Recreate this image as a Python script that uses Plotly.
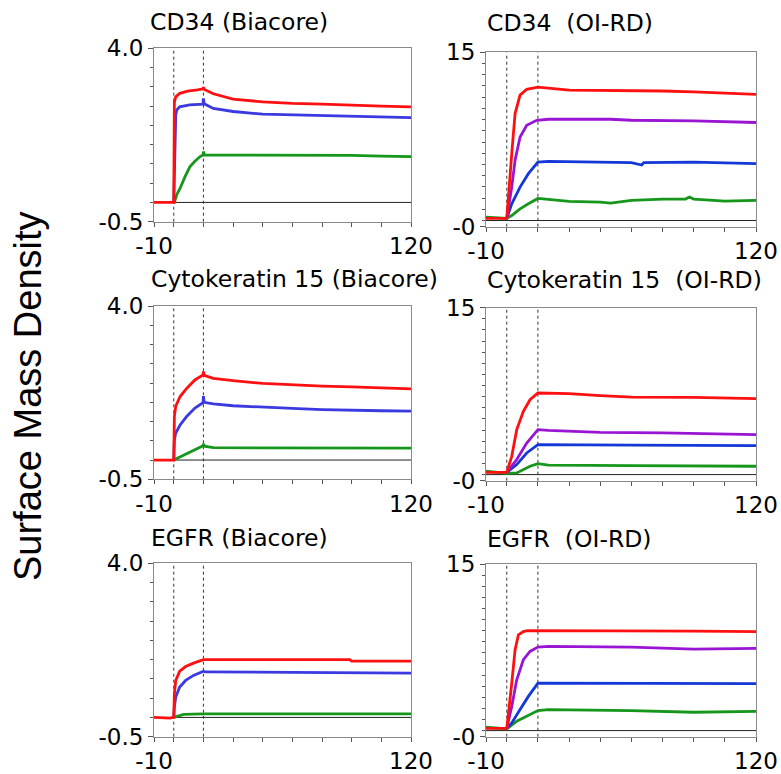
import plotly.graph_objects as go

# ---------------- data ----------------
panel_titles = ["CD34 (Biacore)", "CD34  (OI-RD)",
                "Cytokeratin 15 (Biacore)", "Cytokeratin 15  (OI-RD)",
                "EGFR (Biacore)", "EGFR  (OI-RD)"]
y_axis_title = "Surface Mass Density"
event_times = [0, 15]
x_range = [-10, 120]
x_tick_labels = ["-10", "120"]
biacore_range = [-0.5, 4.0]
biacore_tick_labels = ["-0.5", "4.0"]
oird_range = [-0.55, 15]
oird_tick_labels = ["-0", "15"]

# CD34 Biacore
cd34_b_red_t = [-10, -5, 0, 0.3, 1, 3, 7, 12, 14.8, 15, 15.5, 20, 25, 30, 45, 60, 75, 90, 105, 120]
cd34_b_red_v = [0, 0, 0, 2.60, 2.74, 2.83, 2.89, 2.92, 2.95, 2.99, 2.93, 2.82, 2.74, 2.68, 2.61, 2.57, 2.55, 2.52, 2.50, 2.48]
cd34_b_blue_t = [0, 0.5, 1, 1.5, 3, 8, 14.8, 15, 15.4, 20, 30, 45, 60, 75, 90, 105, 120]
cd34_b_blue_v = [0, 1.60, 2.27, 2.40, 2.48, 2.53, 2.55, 2.70, 2.56, 2.44, 2.36, 2.29, 2.27, 2.25, 2.23, 2.21, 2.20]
cd34_b_green_t = [0, 0.3, 1.5, 3.2, 5.7, 8.2, 10.7, 13.3, 14.8, 15.1, 15.5, 30, 60, 90, 105, 120]
cd34_b_green_v = [0, 0, 0.20, 0.37, 0.67, 0.93, 1.07, 1.19, 1.23, 1.32, 1.23, 1.23, 1.23, 1.22, 1.20, 1.19]

# Cytokeratin 15 Biacore
ck15_b_red_t = [-10, 0, 0.3, 1, 3.2, 6.5, 10.7, 14.8, 15, 15.4, 20, 30, 45, 60, 75, 90, 105, 120]
ck15_b_red_v = [0, 0, 1.13, 1.40, 1.65, 1.86, 2.08, 2.21, 2.30, 2.20, 2.12, 2.06, 1.99, 1.95, 1.92, 1.90, 1.88, 1.85]
ck15_b_blue_t = [0, 0.3, 1, 3.2, 6.5, 10.7, 14.8, 15, 15.4, 20, 30, 45, 60, 75, 90, 105, 120]
ck15_b_blue_v = [0, 0.52, 0.70, 0.91, 1.13, 1.35, 1.49, 1.66, 1.50, 1.46, 1.41, 1.37, 1.34, 1.31, 1.29, 1.28, 1.27]
ck15_b_green_t = [0, 5, 10, 14.8, 15, 15.5, 20, 60, 120]
ck15_b_green_v = [0, 0.13, 0.26, 0.37, 0.42, 0.36, 0.32, 0.32, 0.31]

# EGFR Biacore
egfr_b_red_t = [-10, -2, 0, 0.3, 1, 3, 6, 10, 15, 20, 60, 89, 90, 120]
egfr_b_red_v = [0, -0.02, 0, 0.62, 0.96, 1.20, 1.32, 1.41, 1.50, 1.50, 1.50, 1.50, 1.46, 1.46]
egfr_b_blue_t = [0, 0.3, 1, 3, 6, 10, 15, 16, 60, 120]
egfr_b_blue_v = [0, 0.27, 0.53, 0.79, 0.96, 1.09, 1.20, 1.18, 1.17, 1.15]
egfr_b_green_t = [0, 3, 5, 15, 120]
egfr_b_green_v = [0, 0.05, 0.08, 0.09, 0.09]

# CD34 OI-RD
cd34_o_red_t = [-10, 0, 2.4, 4.0, 6.4, 9.6, 14.4, 15, 30, 45, 60, 75, 90, 105, 120]
cd34_o_red_v = [0.2, 0.2, 5.96, 9.54, 11.18, 11.70, 11.87, 11.90, 11.63, 11.62, 11.57, 11.55, 11.48, 11.39, 11.24]
cd34_o_purple_t = [0, 2.4, 4.0, 6.4, 9.6, 14.4, 20, 50, 60, 90, 120]
cd34_o_purple_v = [0.2, 2.98, 5.37, 7.45, 8.50, 8.94, 9.03, 9.03, 8.94, 8.88, 8.74]
cd34_o_blue_t = [0, 2.4, 6.4, 10.4, 15, 20, 60, 65, 66, 90, 120]
cd34_o_blue_v = [0.2, 1.49, 2.98, 4.18, 5.22, 5.28, 5.16, 4.95, 5.16, 5.20, 5.07]
cd34_o_green_t = [-10, 0, 2.4, 6.4, 10.4, 15, 20, 30, 45, 50, 60, 75, 86, 88, 90, 105, 120]
cd34_o_green_v = [0.3, 0.2, 0.45, 1.04, 1.49, 1.97, 1.88, 1.70, 1.64, 1.55, 1.79, 1.91, 1.91, 2.09, 1.91, 1.73, 1.79]

# Cytokeratin 15 OI-RD
ck15_o_red_t = [-10, 0, 2.4, 4.8, 8, 11.2, 15, 20, 30, 45, 60, 90, 120]
ck15_o_red_v = [0.2, 0.2, 1.64, 4.04, 5.68, 6.73, 7.33, 7.33, 7.27, 7.09, 6.97, 6.94, 6.82]
ck15_o_purple_t = [0, 4.8, 9.6, 15, 20, 45, 75, 120]
ck15_o_purple_v = [0.2, 1.35, 2.84, 4.04, 3.98, 3.79, 3.74, 3.59]
ck15_o_blue_t = [0, 4.8, 9.6, 13.9, 15, 60, 120]
ck15_o_blue_v = [0.2, 0.90, 1.94, 2.60, 2.69, 2.65, 2.60]
ck15_o_green_t = [-10, 0, 4.8, 8, 11.2, 15, 20, 60, 120]
ck15_o_green_v = [0.3, 0.1, 0.15, 0.45, 0.75, 0.99, 0.85, 0.81, 0.75]

# EGFR OI-RD
egfr_o_red_t = [-10, 0, 2.4, 4.0, 5.6, 8, 10, 60, 90, 120]
egfr_o_red_v = [0.2, 0.2, 4.28, 7.28, 8.62, 8.92, 9.01, 9.00, 8.95, 8.92]
egfr_o_purple_t = [0, 2.4, 4.8, 8, 11.2, 15, 20, 60, 90, 120]
egfr_o_purple_v = [0.2, 2.18, 4.58, 6.38, 7.13, 7.52, 7.58, 7.52, 7.34, 7.40]
egfr_o_blue_t = [0, 2.4, 6.4, 10.4, 15, 60, 120]
egfr_o_blue_v = [0.2, 0.69, 1.89, 3.08, 4.28, 4.28, 4.22]
egfr_o_green_t = [-10, 0, 4.8, 9.6, 15, 20, 60, 90, 120]
egfr_o_green_v = [0.3, 0.15, 0.84, 1.29, 1.80, 1.89, 1.80, 1.65, 1.73]

# ---------------- style ----------------
RED = "#ff1010"
BLUE_B = "#3a3ae0"
BLUE_O = "#1438d8"
PURPLE = "#9a14d4"
GREEN = "#16961a"
W, H = 781, 774

panels = [
    ([(cd34_b_green_t, cd34_b_green_v, GREEN), (cd34_b_blue_t, cd34_b_blue_v, BLUE_B), (cd34_b_red_t, cd34_b_red_v, RED)], True, (154, 411), (48.3, 221.7)),
    ([(cd34_o_green_t, cd34_o_green_v, GREEN), (cd34_o_blue_t, cd34_o_blue_v, BLUE_O), (cd34_o_purple_t, cd34_o_purple_v, PURPLE), (cd34_o_red_t, cd34_o_red_v, RED)], False, (486, 756), (52.3, 226.7)),
    ([(ck15_b_green_t, ck15_b_green_v, GREEN), (ck15_b_blue_t, ck15_b_blue_v, BLUE_B), (ck15_b_red_t, ck15_b_red_v, RED)], True, (154, 411), (306, 479.3)),
    ([(ck15_o_green_t, ck15_o_green_v, GREEN), (ck15_o_blue_t, ck15_o_blue_v, BLUE_O), (ck15_o_purple_t, ck15_o_purple_v, PURPLE), (ck15_o_red_t, ck15_o_red_v, RED)], False, (486, 756), (307.7, 480.7)),
    ([(egfr_b_green_t, egfr_b_green_v, GREEN), (egfr_b_blue_t, egfr_b_blue_v, BLUE_B), (egfr_b_red_t, egfr_b_red_v, RED)], True, (154, 411), (563.3, 736.7)),
    ([(egfr_o_green_t, egfr_o_green_v, GREEN), (egfr_o_blue_t, egfr_o_blue_v, BLUE_O), (egfr_o_purple_t, egfr_o_purple_v, PURPLE), (egfr_o_red_t, egfr_o_red_v, RED)], False, (486, 756), (564, 736.7)),
]
title_pos = [(148, 32), (485, 33), (149, 288.5), (485, 290), (149, 548), (485, 549)]

fig = go.Figure()
layout = dict(width=W, height=H, margin=dict(l=0, r=0, t=0, b=0, autoexpand=False),
              paper_bgcolor="white", plot_bgcolor="white", showlegend=False, template="none")
shapes = []
annotations = []
TICKFONT = dict(family="DejaVu Sans", size=23, color="black")

for i, (series, is_b, xp, yp) in enumerate(panels):
    n = i + 1
    xa = "x" if n == 1 else f"x{n}"
    ya = "y" if n == 1 else f"y{n}"
    for t, v, c in series:
        fig.add_trace(go.Scatter(x=t, y=v, mode="lines", xaxis=xa, yaxis=ya,
                                 line=dict(color=c, width=2.8), hoverinfo="skip"))
    xd = [xp[0] / W, xp[1] / W]
    yd = [1 - yp[1] / H, 1 - yp[0] / H]
    yr = biacore_range if is_b else oird_range
    ylab = biacore_tick_labels if is_b else oird_tick_labels
    key_x = "xaxis" if n == 1 else f"xaxis{n}"
    key_y = "yaxis" if n == 1 else f"yaxis{n}"
    layout[key_x] = dict(domain=xd, anchor=ya, range=x_range, showgrid=False, zeroline=False,
                         automargin=False,
                         showline=True, mirror=True, linecolor="#8a8a8a", linewidth=1,
                         tickmode="array", tickvals=x_range, ticktext=x_tick_labels,
                         ticks="outside", ticklen=4, tickcolor="#555", tickfont=TICKFONT,
                         minor=dict(ticks="outside", tick0=0, dtick=15, ticklen=4, tickcolor="#555"),
                         fixedrange=True)
    layout[key_y] = dict(domain=yd, anchor=xa, range=yr, showgrid=False, zeroline=False,
                         automargin=False,
                         showline=True, mirror=True, linecolor="#8a8a8a", linewidth=1,
                         tickmode="array", tickvals=yr, ticktext=ylab,
                         ticks="outside", ticklen=5, tickcolor="#555", tickfont=TICKFONT,
                         minor=dict(ticks="outside", tick0=0, dtick=0.5 if is_b else 1,
                                    ticklen=3, tickcolor="#555"),
                         fixedrange=True)
    shapes.append(dict(type="line", xref=f"{xa} domain", yref=ya, x0=0, x1=1, y0=0, y1=0,
                       line=dict(color="#222", width=1), layer="below"))
    for et in event_times:
        shapes.append(dict(type="line", xref=xa, yref=f"{ya} domain", x0=et, x1=et, y0=0, y1=1,
                           line=dict(color="#333", width=1, dash="dot"), layer="below"))
    tx, ty = title_pos[i]
    annotations.append(dict(text=panel_titles[i], xref="paper", yref="paper",
                            x=tx / W, y=1 - (ty + 6) / H, xanchor="left", yanchor="bottom",
                            showarrow=False, font=dict(family="DejaVu Sans", size=23.5, color="black")))

annotations.append(dict(text=y_axis_title, xref="paper", yref="paper", x=28 / W, y=1 - 396 / H,
                        xanchor="center", yanchor="middle", textangle=-90, showarrow=False,
                        font=dict(family="Liberation Sans, Arial", size=38, color="black")))
layout["shapes"] = shapes
layout["annotations"] = annotations
fig.update_layout(**layout)
fig.write_html("out.html", config={"displayModeBar": False, "staticPlot": True},
               post_script="document.body.style.margin='0';document.body.style.padding='0';")
